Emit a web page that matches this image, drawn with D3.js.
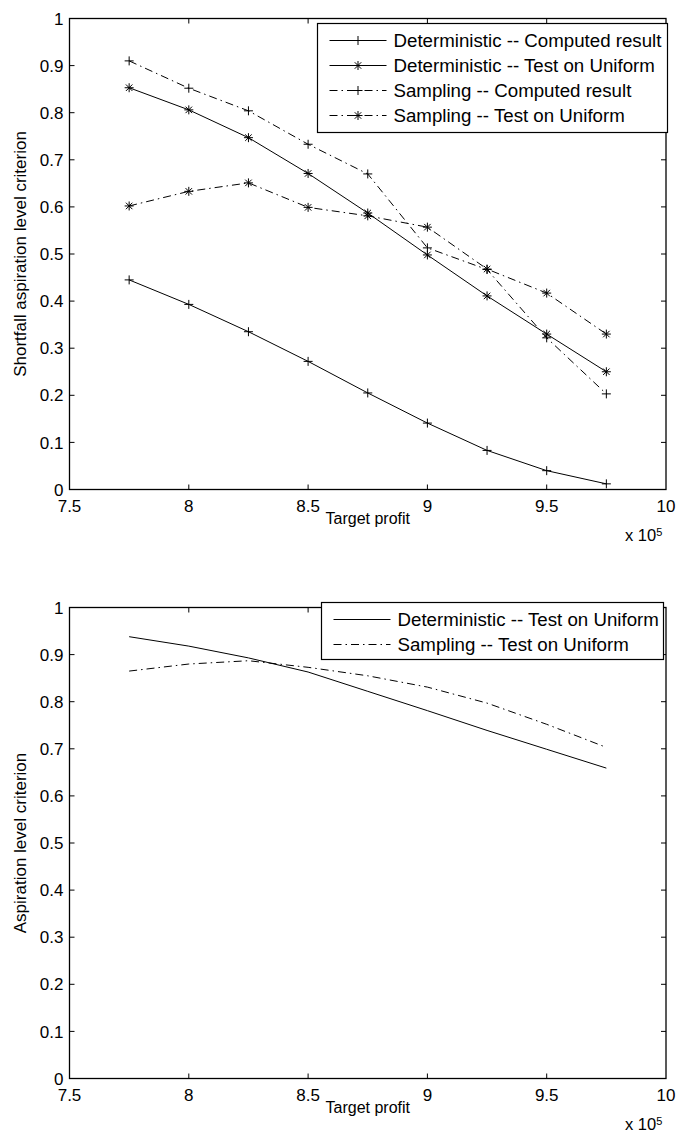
<!DOCTYPE html>
<html lang="en">
<head>
  <meta charset="UTF-8">
  <title>Aspiration level criteria</title>
  <style>
    body {
      margin: 0;
      padding: 0;
      background: #fff;
      font-family: 'Liberation Sans', Arial, sans-serif;
    }
    svg text { fill: #000; }
    .frame { fill: none; stroke: #000; stroke-width: 1.3px; }
    .line { fill: none; stroke: #000; stroke-width: 1px; }
    .marker { stroke: #000; stroke-width: 1px; fill: none; }
  </style>
</head>
<body>
  <div id="chart"></div>

  <script src="https://d3js.org/d3.v7.min.js"></script>
  <script>
    // target profit (x 10^5)
    const targets = [7.75, 8, 8.25, 8.5, 8.75, 9, 9.25, 9.5, 9.75];
    const xTicks = [7.5, 8, 8.5, 9, 9.5, 10];
    const yTicks = [0, 0.1, 0.2, 0.3, 0.4, 0.5, 0.6, 0.7, 0.8, 0.9, 1];

    // top panel: shortfall aspiration level
    const detComputed = [0.445, 0.393, 0.335, 0.272, 0.205, 0.141, 0.083, 0.040, 0.012];
    const detUniform  = [0.853, 0.806, 0.747, 0.671, 0.587, 0.498, 0.411, 0.330, 0.250];
    const smpComputed = [0.910, 0.852, 0.804, 0.733, 0.670, 0.513, 0.467, 0.322, 0.203];
    const smpUniform  = [0.602, 0.633, 0.651, 0.599, 0.581, 0.557, 0.468, 0.417, 0.330];

    // bottom panel: aspiration level
    const detAspiration = [0.938, 0.918, 0.893, 0.863, 0.822, 0.781, 0.739, 0.699, 0.659];
    const smpAspiration = [0.865, 0.880, 0.887, 0.873, 0.855, 0.831, 0.797, 0.752, 0.703];

    const W = 678, H = 1135;
    const DASHDOT = '8,4,1.5,4';

    const svg = d3.select('#chart').append('svg')
      .attr('width', W).attr('height', H);

    const x = d3.scaleLinear().domain([7.5, 10]).range([69.5, 666]);

    function marker(g, type, cx, cy) {
      const s = 4.5;
      const m = g.append('g').attr('class', 'marker')
        .attr('transform', `translate(${cx},${cy})`);
      m.append('line').attr('x1', -s).attr('x2', s).attr('y1', 0).attr('y2', 0);
      m.append('line').attr('x1', 0).attr('x2', 0).attr('y1', -s).attr('y2', s);
      if (type === 'star') {
        const d = s * 0.72;
        m.append('line').attr('x1', -d).attr('x2', d).attr('y1', -d).attr('y2', d);
        m.append('line').attr('x1', -d).attr('x2', d).attr('y1', d).attr('y2', -d);
      }
    }

    function panel(top, bottom, ylabel, series, legend) {
      const y = d3.scaleLinear().domain([0, 1]).range([bottom, top]);
      const g = svg.append('g');

      // inward ticks on all four sides
      xTicks.slice(1, -1).forEach(t => {
        g.append('line').attr('stroke', '#000')
          .attr('x1', x(t)).attr('x2', x(t)).attr('y1', bottom).attr('y2', bottom - 5);
        g.append('line').attr('stroke', '#000')
          .attr('x1', x(t)).attr('x2', x(t)).attr('y1', top).attr('y2', top + 5);
      });
      yTicks.slice(1, -1).forEach(t => {
        g.append('line').attr('stroke', '#000')
          .attr('x1', x(7.5)).attr('x2', x(7.5) + 5).attr('y1', y(t)).attr('y2', y(t));
        g.append('line').attr('stroke', '#000')
          .attr('x1', x(10)).attr('x2', x(10) - 5).attr('y1', y(t)).attr('y2', y(t));
      });

      g.selectAll('text.ylab').data(yTicks).join('text')
        .attr('x', x(7.5) - 6).attr('y', d => y(d))
        .attr('dy', '0.36em').attr('text-anchor', 'end')
        .attr('font-size', 17)
        .text(d => d3.format('~g')(d));

      g.selectAll('text.xlab').data(xTicks).join('text')
        .attr('x', d => x(d)).attr('y', bottom + 16)
        .attr('dy', '0.36em').attr('text-anchor', 'middle')
        .attr('font-size', 17)
        .text(d => d3.format('~g')(d));

      g.append('text')
        .attr('x', (x(7.5) + x(10)) / 2).attr('y', bottom + 29)
        .attr('dy', '0.36em').attr('text-anchor', 'middle')
        .attr('font-size', 16)
        .text('Target profit');

      const ex = g.append('text')
        .attr('x', 625).attr('y', bottom + 46)
        .attr('dy', '0.36em').attr('font-size', 16.5);
      ex.append('tspan').text('x 10');
      ex.append('tspan').attr('dy', '-0.5em').attr('font-size', 11).text('5');

      g.append('text')
        .attr('transform', `translate(26,${(top + bottom) / 2}) rotate(-90)`)
        .attr('text-anchor', 'middle')
        .attr('font-size', 17)
        .text(ylabel);

      const line = d3.line().x((d, i) => x(targets[i])).y(d => y(d));
      series.forEach(s => {
        g.append('path').attr('class', 'line')
          .attr('d', line(s.values))
          .attr('stroke-dasharray', s.dash ? DASHDOT : null);
        if (s.marker) {
          s.values.forEach((v, i) => marker(g, s.marker, x(targets[i]), y(v)));
        }
      });

      g.append('rect').attr('class', 'frame')
        .attr('x', x(7.5)).attr('y', top)
        .attr('width', x(10) - x(7.5)).attr('height', bottom - top);

      // legend
      const lg = g.append('g');
      lg.append('rect')
        .attr('x', legend.x).attr('y', legend.y)
        .attr('width', legend.w).attr('height', legend.h)
        .attr('fill', '#fff').attr('stroke', '#000').attr('stroke-width', 1.2);
      series.forEach((s, i) => {
        const ry = legend.y + legend.first + i * legend.step;
        lg.append('line').attr('class', 'line')
          .attr('x1', legend.x + 12).attr('x2', legend.x + 69)
          .attr('y1', ry).attr('y2', ry)
          .attr('stroke-dasharray', s.dash ? DASHDOT : null);
        if (s.marker) marker(lg, s.marker, legend.x + 40.5, ry);
        lg.append('text')
          .attr('x', legend.x + 76).attr('y', ry)
          .attr('dy', '0.36em').attr('font-size', 18.7)
          .text(s.name);
      });
    }

    panel(18.5, 489.5, 'Shortfall aspiration level criterion', [
      { name: 'Deterministic -- Computed result', values: detComputed, marker: 'plus', dash: false },
      { name: 'Deterministic -- Test on Uniform', values: detUniform, marker: 'star', dash: false },
      { name: 'Sampling -- Computed result', values: smpComputed, marker: 'plus', dash: true },
      { name: 'Sampling -- Test on Uniform', values: smpUniform, marker: 'star', dash: true }
    ], { x: 317.5, y: 23.5, w: 350, h: 109, first: 17, step: 25 });

    panel(607.5, 1078.5, 'Aspiration level criterion', [
      { name: 'Deterministic -- Test on Uniform', values: detAspiration, marker: null, dash: false },
      { name: 'Sampling -- Test on Uniform', values: smpAspiration, marker: null, dash: true }
    ], { x: 321.5, y: 602.5, w: 342, h: 57, first: 17, step: 25 });
  </script>
</body>
</html>
